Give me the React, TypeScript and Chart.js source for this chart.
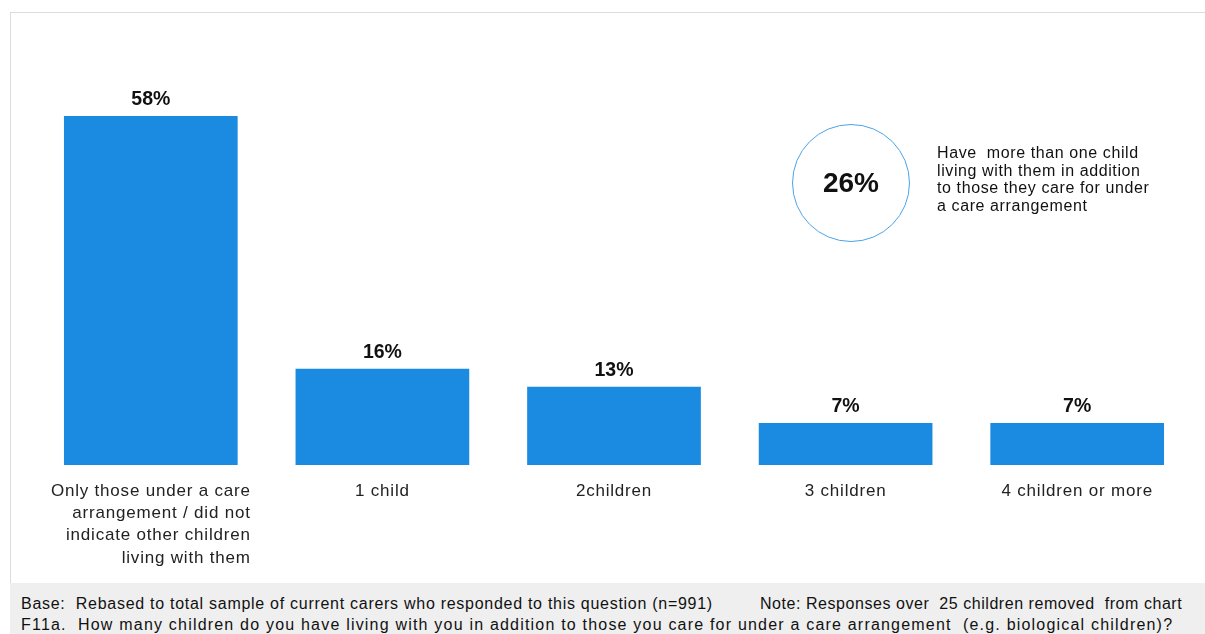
import React, { useEffect, useRef } from "react";
import { Chart, registerables } from "chart.js";

Chart.register(...registerables);

const categories: string[][] = [
  ["Only those under a care", "arrangement / did not", "indicate other children", "living with them"],
  ["1 child"],
  ["2children"],
  ["3 children"],
  ["4 children or more"],
];
const values: number[] = [58, 16, 13, 7, 7];
const valueLabels: string[] = ["58%", "16%", "13%", "7%", "7%"];
const calloutValue = "26%";
const calloutText: string[] = [
  "Have  more than one child",
  "living with them in addition",
  "to those they care for under",
  "a care arrangement",
];
const footerLine1a = "Base:  Rebased to total sample of current carers who responded to this question (n=991)";
const footerLine1b = "Note: Responses over  25 children removed  from chart";
const footerLine2 = "F11a.  How many children do you have living with you in addition to those you care for under a care arrangement  (e.g. biological children)?";

const FONT = "'Liberation Sans', Arial, Helvetica, sans-serif";
const BAR_COLOR = "#1a8be1";

const labelsPlugin = {
  id: "customLabels",
  afterDatasetsDraw(chart: any) {
    const ctx = chart.ctx;
    const meta = chart.getDatasetMeta(0);
    const bottom = chart.chartArea.bottom;
    ctx.save();
    // value labels
    ctx.font = `bold 19.5px ${FONT}`;
    ctx.fillStyle = "#111";
    ctx.textAlign = "center";
    ctx.textBaseline = "middle";
    meta.data.forEach((bar: any, i: number) => {
      ctx.fillText(valueLabels[i], bar.x, bar.y - 16);
    });
    // category labels
    ctx.font = `17px ${FONT}`;
    ctx.fillStyle = "#222";
    (ctx as any).letterSpacing = "0.8px";
    categories.forEach((lines, i) => {
      const cx = meta.data[i].x;
      if (lines.length > 1) {
        const maxW = Math.max(...lines.map((l) => ctx.measureText(l).width));
        ctx.textAlign = "right";
        lines.forEach((l, j) => ctx.fillText(l, cx + maxW / 2, bottom + 26 + j * 22.3));
      } else {
        ctx.textAlign = "center";
        ctx.fillText(lines[0], cx, bottom + 26);
      }
    });
    ctx.restore();
  },
};

export default function App() {
  const ref = useRef<HTMLCanvasElement | null>(null);
  useEffect(() => {
    if (!ref.current) return;
    const chart = new Chart(ref.current, {
      type: "bar",
      data: {
        labels: categories.map((c) => c.join(" ")),
        datasets: [
          {
            data: values,
            backgroundColor: BAR_COLOR,
            borderWidth: 0,
            barPercentage: 0.75,
            categoryPercentage: 1,
          },
        ],
      },
      options: {
        animation: false,
        responsive: false,
        maintainAspectRatio: false,
        layout: { padding: { left: 35, right: 12, top: 104, bottom: 169 } },
        plugins: { legend: { display: false }, tooltip: { enabled: false } },
        scales: {
          x: { display: false },
          y: { display: false, min: 0, max: 60 },
        },
      },
      plugins: [labelsPlugin],
    });
    return () => chart.destroy();
  }, []);

  const footerStyle = { position: "absolute" as const, fontSize: 16, color: "#111", whiteSpace: "pre" as const };

  return (
    <div style={{ position: "absolute", left: 0, top: 0, width: 1205, height: 634, background: "#fff", overflow: "hidden", fontFamily: FONT }}>
      <div style={{ position: "absolute", left: 10, top: 12, right: 0, height: 1, background: "#dcdcdc" }} />
      <div style={{ position: "absolute", left: 10, top: 12, width: 1, height: 572, background: "#dcdcdc" }} />
      <canvas ref={ref} width={1205} height={634} style={{ position: "absolute", left: 0, top: 0 }} />
      <div
        style={{
          position: "absolute",
          left: 792,
          top: 124,
          width: 116,
          height: 116,
          borderRadius: "50%",
          border: "1.6px solid #4aa3e8",
          display: "flex",
          alignItems: "center",
          justifyContent: "center",
          fontWeight: "bold",
          fontSize: 28,
          color: "#111",
        }}
      >
        {calloutValue}
      </div>
      <div style={{ position: "absolute", left: 937, top: 144, fontSize: 16, letterSpacing: "0.6px", lineHeight: "17.7px", color: "#111", whiteSpace: "pre" }}>
        {calloutText.map((t, i) => (
          <div key={i}>{t}</div>
        ))}
      </div>
      <div style={{ position: "absolute", left: 10, top: 583, right: 0, bottom: 0, background: "#efefef" }}>
        <div style={{ ...footerStyle, left: 11, top: 12, letterSpacing: "0.72px" }}>{footerLine1a}</div>
        <div style={{ ...footerStyle, left: 750, top: 12, letterSpacing: "0.55px" }}>{footerLine1b}</div>
        <div style={{ ...footerStyle, left: 11, top: 33, letterSpacing: "1.2px" }}>{footerLine2}</div>
      </div>
    </div>
  );
}
